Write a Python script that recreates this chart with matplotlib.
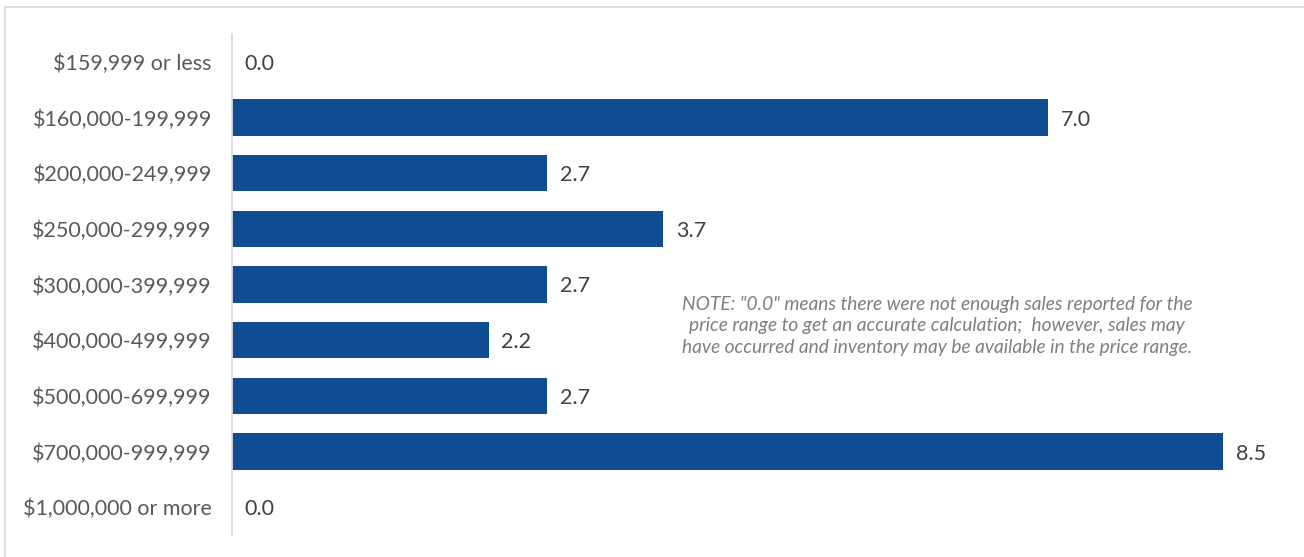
import matplotlib
matplotlib.use("Agg")
import matplotlib.pyplot as plt
from matplotlib.patches import Rectangle

categories = ["$159,999 or less", "$160,000-199,999", "$200,000-249,999",
              "$250,000-299,999", "$300,000-399,999", "$400,000-499,999",
              "$500,000-699,999", "$700,000-999,999", "$1,000,000 or more"]
values = [0.0, 7.0, 2.7, 3.7, 2.7, 2.2, 2.7, 8.5, 0.0]
note = ('NOTE: "0.0" means there were not enough sales reported for the\n'
        'price range to get an accurate calculation;  however, sales may\n'
        'have occurred and inventory may be available in the price range.')

W, H = 1304, 557
fig = plt.figure(figsize=(W / 100, H / 100), dpi=100)
plt.rcParams['font.family'] = ['Lato', 'DejaVu Sans']

left_px, right_px = 232, 232 + 116.6 * 9.0
top_px, bot_px = 34, 535
ax = fig.add_axes([left_px / W, 1 - bot_px / H, (right_px - left_px) / W, (bot_px - top_px) / H])

y = list(range(len(categories)))
ax.barh(y, values, height=0.65, color="#104C91")
ax.set_ylim(len(categories) - 0.5, -0.5)
ax.set_xlim(0, 9.0)
ax.set_yticks(y)
ax.set_yticklabels(categories, fontsize=15.5, color="#595959")
ax.tick_params(axis='y', length=0, pad=14.5)
ax.set_xticks([])
for s in ["top", "right", "bottom"]:
    ax.spines[s].set_visible(False)
ax.spines["left"].set_color("#D9D9D9")
ax.spines["left"].set_linewidth(1.3)

for yi, v in zip(y, values):
    ax.text(v + 0.11, yi, f"{v:.1f}", va="center_baseline", ha="left", fontsize=15.5, color="#404040")

fig.text(937 / W, 1 - 326 / H, note, ha="center", va="center", fontsize=13.8,
         style="italic", color="#7F7F7F", linespacing=1.3)

fig.patches.append(Rectangle((5 / W, -0.05), 1.2, 1 - 7 / H + 0.05, transform=fig.transFigure,
                             fill=False, edgecolor="#D9D9D9", linewidth=1.3))

fig.savefig("out.png", dpi=100, facecolor="white")
